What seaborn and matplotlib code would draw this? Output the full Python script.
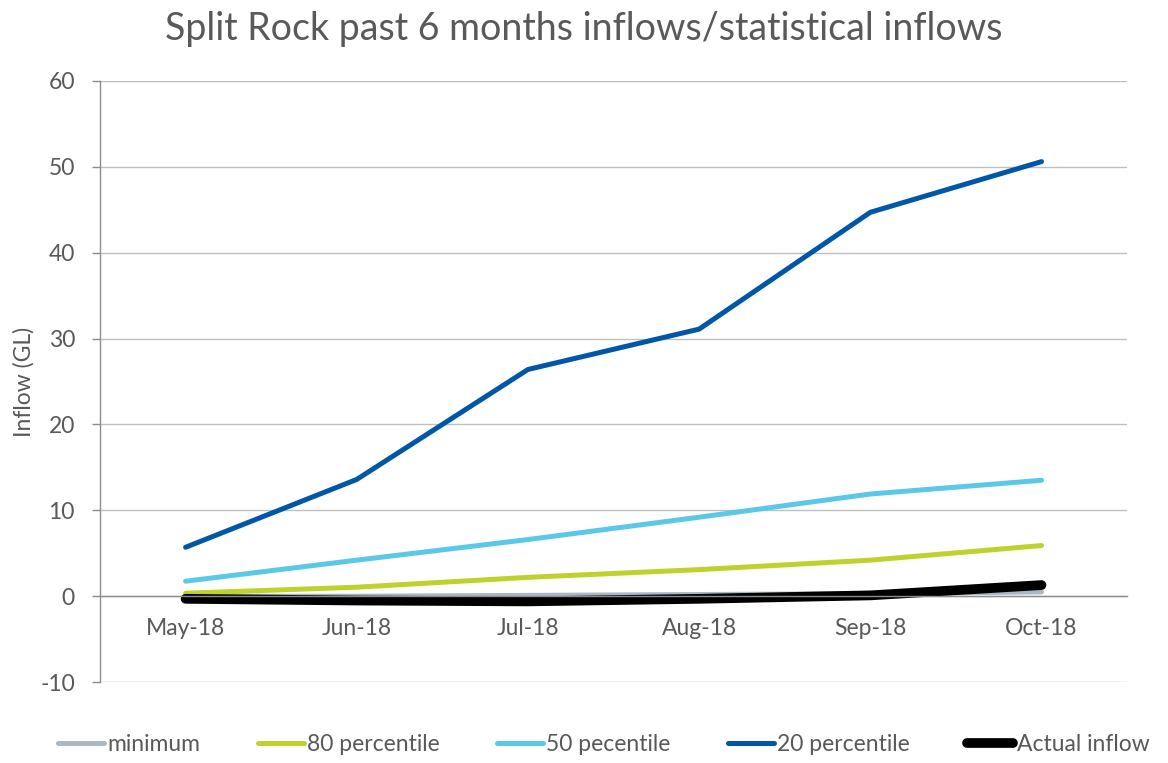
import matplotlib
matplotlib.use("Agg")
import matplotlib.pyplot as plt
import seaborn as sns
import pandas as pd
import numpy as np

months = ["May-18", "Jun-18", "Jul-18", "Aug-18", "Sep-18", "Oct-18"]
minimum = [0.0, 0.0, 0.1, 0.2, 0.3, 0.5]
pct80 = [0.35, 1.05, 2.2, 3.1, 4.2, 5.9]
pct50 = [1.75, 4.2, 6.6, 9.2, 11.9, 13.5]
pct20 = [5.7, 13.6, 26.4, 31.1, 44.7, 50.6]
actual = [-0.3, -0.5, -0.6, -0.3, 0.1, 1.3]

series_names = ["minimum", "80 percentile", "50 pecentile", "20 percentile", "Actual inflow"]
series_values = [minimum, pct80, pct50, pct20, actual]
colors = ["#A9B9C3", "#BFD22B", "#5BC8E8", "#0057A8", "#000000"]
widths = [3.6, 3.6, 3.6, 3.6, 7.0]

sns.set_theme(style="white")
plt.rcParams["font.family"] = ["Lato", "DejaVu Sans"]
plt.rcParams["axes.unicode_minus"] = False
text_color = "#595959"

fig = plt.figure(figsize=(11.68, 7.63), dpi=100)
ax = fig.add_axes([0.0856, 0.106, 0.8794, 0.788])

x = np.arange(len(months))
for name, vals, c, lw in zip(series_names, series_values, colors, widths):
    df = pd.DataFrame({"x": x, "y": vals})
    sns.lineplot(data=df, x="x", y="y", ax=ax, color=c, linewidth=lw,
                 label=name, solid_capstyle="round", legend=False)

ax.set_xlim(-0.5, len(months) - 0.5)
ax.set_ylim(-10, 60)
ax.set_yticks(range(-10, 61, 10))
ax.grid(axis="y", color="#BFBFBF", linewidth=1)
ax.set_axisbelow(True)

ax.set_xticks(x)
ax.set_xticklabels(months)
ax.set_xticks(np.arange(-0.5, len(months), 1.0), minor=True)
ax.tick_params(axis="x", which="major", length=0, pad=16, labelsize=16.5, labelcolor=text_color)
ax.tick_params(axis="x", which="minor", length=7, width=1, color="#8C8C8C", direction="out")
ax.tick_params(axis="y", length=6, width=1, color="#8C8C8C", direction="out",
               left=True, labelsize=16.5, labelcolor=text_color, pad=12)

for s in ["top", "right"]:
    ax.spines[s].set_visible(False)
ax.spines["bottom"].set_position(("data", 0))
for s in ["left", "bottom"]:
    ax.spines[s].set_color("#8C8C8C")
    ax.spines[s].set_linewidth(1)

ax.set_xlabel("")
ax.set_ylabel("Inflow (GL)", fontsize=16.5, color=text_color, labelpad=4)
fig.suptitle("Split Rock past 6 months inflows/statistical inflows",
             fontsize=27, color=text_color, y=0.985)

handles = ax.get_lines()[:len(series_names)]
leg = fig.legend(handles, series_names, loc="center", bbox_to_anchor=(0.517, 0.024),
                 ncol=5, frameon=False, fontsize=16.5, handlelength=2.0,
                 handletextpad=0.15, columnspacing=2.5)
for t in leg.get_texts():
    t.set_color(text_color)
for h in leg.get_lines():
    h.set_solid_capstyle("round")

fig.savefig("out.png", dpi=100)
